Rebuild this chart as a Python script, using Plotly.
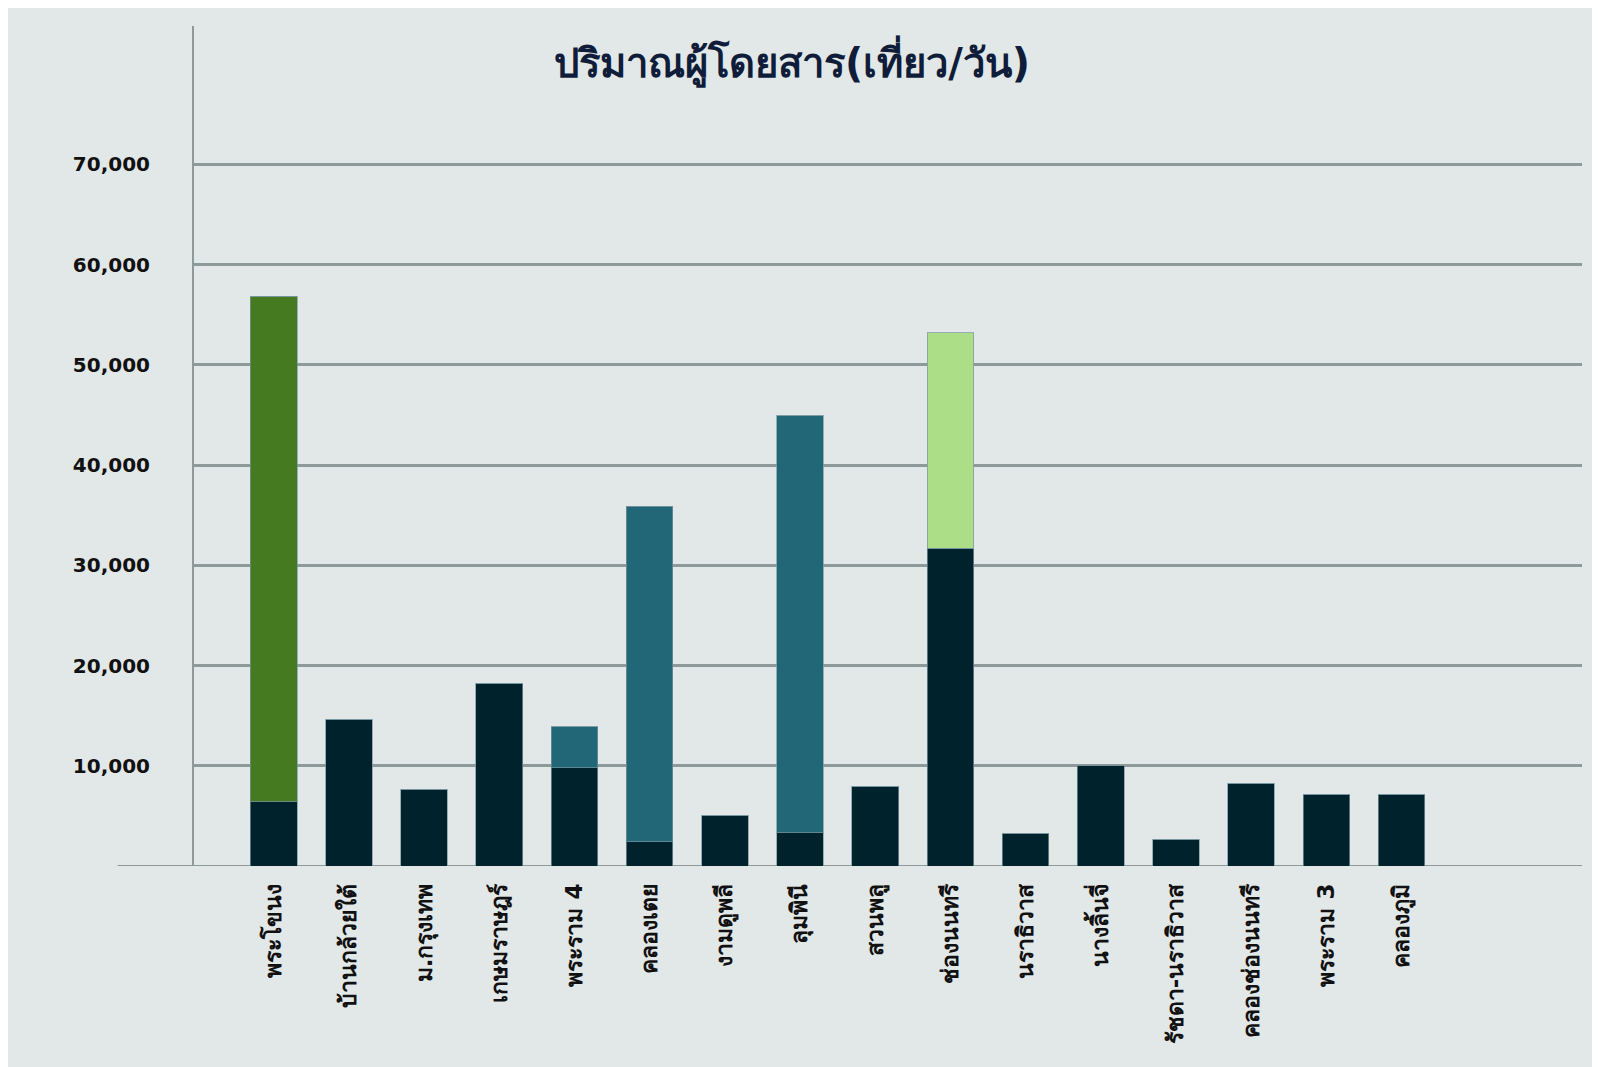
import plotly.graph_objects as go

# stations along the line
stations = [
    "พระโขนง", "บ้านกล้วยใต้", "ม.กรุงเทพ", "เกษมราษฎร์", "พระราม 4",
    "คลองเตย", "งามดูพลี", "ลุมพินี", "สวนพลู", "ช่องนนทรี",
    "นราธิวาส", "นางลิ้นจี่", "รัชดา-นราธิวาส", "คลองช่องนนทรี", "พระราม 3",
    "คลองภูมิ",
]

# passengers (trips/day) on this line
base_trips = [6400, 14600, 7600, 18200, 9800, 2400, 5000, 3300, 7900, 31700,
              3200, 10000, 2600, 8200, 7100, 7100]
# extra passengers from interchanges, stacked on top
green_trips = [50400, 0, 0, 0, 0, 0, 0, 0, 0, 0, 0, 0, 0, 0, 0, 0]
teal_trips = [0, 0, 0, 0, 4100, 33500, 0, 41600, 0, 0, 0, 0, 0, 0, 0, 0]
light_trips = [0, 0, 0, 0, 0, 0, 0, 0, 0, 21500, 0, 0, 0, 0, 0, 0]

y_ticks = [10000, 20000, 30000, 40000, 50000, 60000, 70000]
y_labels = [f"<b>{v:,}</b>" for v in y_ticks]

BG = "#e2e8e8"
GRID = "#8e9a9a"
outline = dict(color="rgba(120,150,160,0.7)", width=1)

fig = go.Figure()
for vals, color in [
    (base_trips, "#00222c"),
    (green_trips, "#467a21"),
    (teal_trips, "#216777"),
    (light_trips, "#abde87"),
]:
    fig.add_trace(go.Bar(x=stations, y=vals, marker=dict(color=color, line=outline)))

# baseline sticks out to the left of the y axis
fig.add_shape(type="line", xref="paper", yref="y", x0=-0.055, x1=1, y0=0, y1=0,
              line=dict(color=GRID, width=2), layer="below")

fig.update_layout(
    width=1600,
    height=1067,
    barmode="stack",
    bargap=0.38,
    showlegend=False,
    paper_bgcolor=BG,
    plot_bgcolor=BG,
    font=dict(family="DejaVu Sans", color="#111111"),
    title=dict(
        text="<b>ปริมาณผู้โดยสาร(เที่ยว/วัน)</b>",
        x=0.49, xanchor="center", y=0.948, yanchor="middle",
        font=dict(size=40, color="#0f1d3a", family="DejaVu Sans"),
    ),
    margin=dict(l=186, r=26, t=18, b=209),
    xaxis=dict(
        type="category",
        range=[-1.06, 17.4],
        tickangle=-90,
        tickvals=stations,
        ticktext=[f"<b>{s}</b>" for s in stations],
        tickfont=dict(size=23, color="#111111"),
        showgrid=False,
        showline=False,
        zeroline=False,
        ticks="",
        ticklabelstandoff=12,
    ),
    yaxis=dict(
        range=[0, 83800],
        tickvals=y_ticks,
        ticktext=y_labels,
        tickfont=dict(size=20, color="#111111"),
        showgrid=True,
        gridcolor=GRID,
        gridwidth=2.5,
        zeroline=False,
        showline=True,
        linecolor=GRID,
        linewidth=2,
        ticks="",
        ticklabelstandoff=38,
    ),
)

fig.write_html("out.html")
